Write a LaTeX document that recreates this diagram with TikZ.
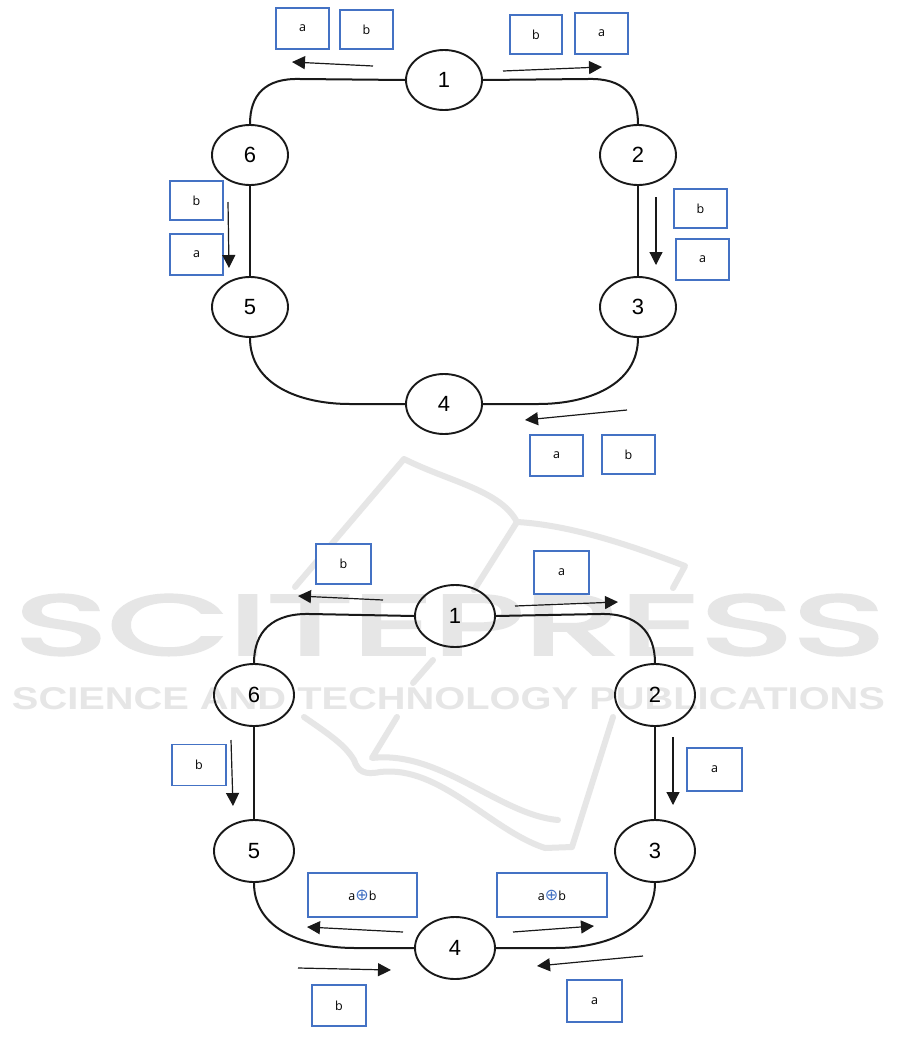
\documentclass[tikz,border=0pt]{standalone}
\usepackage{fontspec}
\setmainfont{Liberation Sans}
\newfontfamily\lblfont{Open Sans}
\newfontfamily\symfont{DejaVu Sans}
\newfontfamily\wmfont[FakeBold=3]{Poppins}
\newfontfamily\wmsubfont{Liberation Sans}
\usetikzlibrary{arrows.meta,shapes.geometric}
\definecolor{boxblue}{HTML}{4472C4}
\definecolor{wm}{HTML}{E6E6E6}
\tikzset{
  ringnode/.style={draw=black!90,line width=1.9pt,ellipse,minimum width=76pt,minimum height=60pt,inner sep=0pt,font=\fontsize{22}{22}\selectfont},
  ringnodeb/.style={ringnode,minimum width=80pt,minimum height=62pt},
  lbl/.style={draw=boxblue,line width=1.2pt,fill=white,inner sep=0pt,font=\lblfont\fontsize{12.5}{12.5}\selectfont},
  ringline/.style={line width=2pt,black!90},
  flow/.style={line width=1.2pt,black!90,-{Triangle[length=13pt,width=13pt]}},
  wmline/.style={wm,line width=6pt,line join=round,line cap=round},
  wmtext/.style={text=wm,inner sep=0pt}
}
\newcommand{\xorsign}{{\symfont\fontsize{16}{16}\selectfont\textcolor{boxblue}{⊕}}}
\begin{document}
\begin{tikzpicture}[x=1pt,y=-1pt]
\useasboundingbox (0,0) rectangle (901,1039);
\fill[white] (0,0) rectangle (901,1039);
% watermark
\draw[wmline] (295,587) -- (404,459) .. controls (450,482) and (500,490) .. (517,522) .. controls (570,525) and (630,545) .. (685,566) -- (673,588);
\draw[wmline] (517,522) -- (474,590);
\draw[wmline] (433,660) -- (413,683);
\draw[wmline] (304,717) .. controls (330,735) and (345,745) .. (354,760) .. controls (358,772) and (365,775) .. (380,772) .. controls (440,765) and (490,830) .. (545,848) -- (572,847) -- (613,717);
\draw[wmline] (397,717) -- (372,758) .. controls (440,750) and (500,815) .. (558,820);
\node[wmtext] (wmone) at (450,625) {\resizebox{870pt}{60pt}{\wmfont SCITEPRESS}};
\node[wmtext] (wmtwo) at (448.5,699) {\resizebox{873pt}{22pt}{\wmsubfont\bfseries SCIENCE AND TECHNOLOGY PUBLICATIONS}};
% top ring
\node[ringnode] (a1) at (444,80) {1};
\node[ringnode] (a2) at (638,155) {2};
\node[ringnode] (a3) at (638,307) {3};
\node[ringnode] (a4) at (444,404) {4};
\node[ringnode] (a5) at (250,307) {5};
\node[ringnode] (a6) at (250,155) {6};
\draw[ringline] (a1.west) -- (300,79) .. controls (265,78) and (250,95) .. (a6.north);
\draw[ringline] (a1.east) -- (588,79) .. controls (623,78) and (638,95) .. (a2.north);
\draw[ringline] (a2) -- (a3);
\draw[ringline] (a6) -- (a5);
\draw[ringline] (a5.south) .. controls (250,385) and (300,404) .. (350,404) -- (a4.west);
\draw[ringline] (a3.south) .. controls (638,385) and (588,404) .. (538,404) -- (a4.east);
% top labels
\node[lbl,minimum width=53pt,minimum height=41pt] (ta1) at (302.5,28.5) {a};
\node[lbl,minimum width=53pt,minimum height=39pt] (tb1) at (366.5,29.5) {b};
\node[lbl,minimum width=52pt,minimum height=39pt] (tb2) at (536,34.5) {b};
\node[lbl,minimum width=53pt,minimum height=41pt] (ta2) at (601.5,33.5) {a};
\node[lbl,minimum width=53pt,minimum height=39pt] (tb3) at (700.5,208.5) {b};
\node[lbl,minimum width=53pt,minimum height=41pt] (ta3) at (702.5,259.5) {a};
\node[lbl,minimum width=53pt,minimum height=41pt] (ta4) at (556.5,455.5) {a};
\node[lbl,minimum width=53pt,minimum height=39pt] (tb4) at (628.5,454.5) {b};
\node[lbl,minimum width=53pt,minimum height=39pt] (tb5) at (196.5,200.5) {b};
\node[lbl,minimum width=53pt,minimum height=41pt] (ta5) at (196.5,254.5) {a};
% top arrows
\coordinate (f1s) at (373,66); \coordinate (f1e) at (292,62);
\coordinate (f2s) at (503,71); \coordinate (f2e) at (602,67);
\coordinate (f3s) at (656,197); \coordinate (f3e) at (656,265);
\coordinate (f4s) at (627,410); \coordinate (f4e) at (525,420);
\coordinate (f5s) at (228,202); \coordinate (f5e) at (229,268);
\draw[flow] (f1s) -- (f1e);
\draw[flow] (f2s) -- (f2e);
\draw[flow] (f3s) -- (f3e);
\draw[flow] (f4s) -- (f4e);
\draw[flow] (f5s) -- (f5e);
% bottom ring
\node[ringnodeb] (c1) at (455,616) {1};
\node[ringnodeb] (c2) at (655,695) {2};
\node[ringnodeb] (c3) at (655,851) {3};
\node[ringnodeb] (c4) at (455,948) {4};
\node[ringnodeb] (c5) at (254,851) {5};
\node[ringnodeb] (c6) at (254,695) {6};
\draw[ringline] (c1.west) -- (310,614) .. controls (272,613) and (254,632) .. (c6.north);
\draw[ringline] (c1.east) -- (600,614) .. controls (637,613) and (655,632) .. (c2.north);
\draw[ringline] (c2) -- (c3);
\draw[ringline] (c6) -- (c5);
\draw[ringline] (c5.south) .. controls (254,930) and (305,948) .. (355,948) -- (c4.west);
\draw[ringline] (c3.south) .. controls (655,930) and (605,948) .. (555,948) -- (c4.east);
% bottom labels
\node[lbl,minimum width=55pt,minimum height=40pt] (lb1) at (343.5,564) {b};
\node[lbl,minimum width=55pt,minimum height=43pt] (la1) at (561.5,572.5) {a};
\node[lbl,minimum width=54pt,minimum height=41pt] (lb2) at (199,765) {b};
\node[lbl,minimum width=55pt,minimum height=43pt] (la2) at (714.5,769.5) {a};
\node[lbl,minimum width=109pt,minimum height=44pt] (lx1) at (362.5,895) {a\xorsign b};
\node[lbl,minimum width=110pt,minimum height=44pt] (lx2) at (552,895) {a\xorsign b};
\node[lbl,minimum width=54pt,minimum height=41pt] (lb3) at (339,1005.5) {b};
\node[lbl,minimum width=55pt,minimum height=42pt] (la3) at (594.5,1001) {a};
% bottom arrows
\coordinate (g1s) at (383,600); \coordinate (g1e) at (298,596);
\coordinate (g2s) at (515,606); \coordinate (g2e) at (618,602);
\coordinate (g3s) at (673,737); \coordinate (g3e) at (673,805);
\coordinate (g4s) at (231,740); \coordinate (g4e) at (233,806);
\coordinate (g5s) at (403,932); \coordinate (g5e) at (307,927);
\coordinate (g6s) at (513,932); \coordinate (g6e) at (594,926);
\coordinate (g7s) at (298,968); \coordinate (g7e) at (391,970);
\coordinate (g8s) at (643,956); \coordinate (g8e) at (537,966);
\draw[flow] (g1s) -- (g1e);
\draw[flow] (g2s) -- (g2e);
\draw[flow] (g3s) -- (g3e);
\draw[flow] (g4s) -- (g4e);
\draw[flow] (g5s) -- (g5e);
\draw[flow] (g6s) -- (g6e);
\draw[flow] (g7s) -- (g7e);
\draw[flow] (g8s) -- (g8e);
\end{tikzpicture}
\end{document}
